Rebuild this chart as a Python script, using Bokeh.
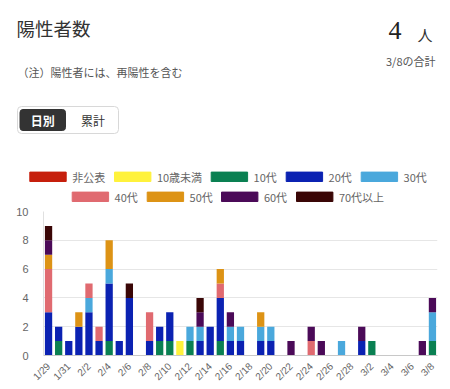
import math
from bokeh.plotting import figure
from bokeh.models import ColumnDataSource, SingleIntervalTicker, FixedTicker, Range1d
from bokeh.core.properties import value
from bokeh.embed import file_html
from bokeh.resources import INLINE

# ---------------- data ----------------
dates = ["1/29", "1/30", "1/31",
         "2/1", "2/2", "2/3", "2/4", "2/5", "2/6", "2/7", "2/8", "2/9", "2/10",
         "2/11", "2/12", "2/13", "2/14", "2/15", "2/16", "2/17", "2/18", "2/19", "2/20",
         "2/21", "2/22", "2/23", "2/24", "2/25", "2/26", "2/27", "2/28",
         "3/1", "3/2", "3/3", "3/4", "3/5", "3/6", "3/7", "3/8"]

groups = ["非公表", "10歳未満", "10代", "20代", "30代", "40代", "50代", "60代", "70代以上"]
colors = ["#c61f0c", "#fff23c", "#0a8052", "#0b22b2", "#4aa8dc", "#e06a70", "#dd9315", "#4b0a58", "#3a0606"]

undisclosed = [0, 0, 0, 0, 0, 0, 0, 0, 0, 0,  0, 0, 0, 0, 0, 0, 0, 0, 0, 0,  0, 0, 0, 0, 0, 0, 0, 0, 0, 0,  0, 0, 0, 0, 0, 0, 0, 0, 0]
under10     = [0, 0, 0, 0, 0, 0, 0, 0, 0, 0,  0, 0, 0, 1, 0, 0, 0, 0, 0, 0,  0, 0, 0, 0, 0, 0, 0, 0, 0, 0,  0, 0, 0, 0, 0, 0, 0, 0, 0]
age10s      = [0, 1, 0, 0, 0, 0, 1, 0, 0, 0,  0, 1, 1, 0, 1, 0, 0, 1, 0, 0,  0, 0, 0, 0, 0, 0, 0, 0, 0, 0,  0, 0, 1, 0, 0, 0, 0, 0, 1]
age20s      = [3, 1, 1, 2, 3, 1, 4, 1, 4, 0,  1, 1, 2, 0, 0, 1, 2, 3, 1, 1,  0, 1, 1, 0, 0, 0, 0, 0, 0, 0,  0, 1, 0, 0, 0, 0, 0, 0, 0]
age30s      = [0, 0, 0, 0, 1, 0, 1, 0, 0, 0,  0, 0, 0, 0, 1, 1, 0, 0, 1, 1,  0, 1, 1, 0, 0, 0, 0, 0, 0, 1,  0, 0, 0, 0, 0, 0, 0, 0, 2]
age40s      = [3, 0, 0, 0, 1, 1, 0, 0, 0, 0,  2, 0, 0, 0, 0, 0, 0, 1, 0, 0,  0, 0, 0, 0, 0, 0, 1, 0, 0, 0,  0, 0, 0, 0, 0, 0, 0, 0, 0]
age50s      = [1, 0, 0, 1, 0, 0, 2, 0, 0, 0,  0, 0, 0, 0, 0, 0, 0, 1, 0, 0,  0, 1, 0, 0, 0, 0, 0, 0, 0, 0,  0, 0, 0, 0, 0, 0, 0, 0, 0]
age60s      = [1, 0, 0, 0, 0, 0, 0, 0, 0, 0,  0, 0, 0, 0, 0, 1, 0, 0, 1, 0,  0, 0, 0, 0, 1, 0, 1, 1, 0, 0,  0, 1, 0, 0, 0, 0, 0, 1, 1]
age70plus   = [1, 0, 0, 0, 0, 0, 0, 0, 1, 0,  0, 0, 0, 0, 0, 1, 0, 0, 0, 0,  0, 0, 0, 0, 0, 0, 0, 0, 0, 0,  0, 0, 0, 0, 0, 0, 0, 0, 0]

y_max = 10
y_ticks_interval = 2
title_text = "陽性者数"
total_value = "4"
total_unit = "人"
total_caption = "3/8の合計"
note_text = "（注）陽性者には、再陽性を含む"
toggle_labels = ["日別", "累計"]

FONT = "Noto Sans CJK JP"
TICKFONT = "Liberation Sans"
W = 450
HEADER_H = 204
CHART_H = 185

# ---------------- header figure (page-pixel coordinates) ----------------
hd = figure(width=W, height=HEADER_H, x_range=Range1d(0, W), y_range=Range1d(HEADER_H, 0),
            output_backend="svg", toolbar_location=None,
            min_border_left=0, min_border_right=0, min_border_top=0, min_border_bottom=0)
hd.axis.visible = False
hd.grid.visible = False
hd.outline_line_color = None
hd.background_fill_color = "white"
hd.border_fill_color = "white"


def htext(x, y, t, size, color, align="left", baseline="middle", font=FONT, style="normal"):
    hd.text(x=[x], y=[y], text=[t], text_font=value(font), text_font_size=value(size),
            text_color=color, text_align=align, text_baseline=baseline, text_font_style=style)


def rounded(renderer, radius):
    try:
        renderer.glyph.border_radius = radius
    except Exception:
        pass


htext(16, 27, title_text, "18.5px", "#333333")
htext(401, 30, total_value, "26px", "#222222", align="right", font="Liberation Serif")
htext(417, 33.5, total_unit, "15px", "#333333")
htext(435, 60.5, total_caption, "11px", "#555555", align="right")
htext(17, 71.7, note_text, "11px", "#555555")

# toggle buttons
r_out = hd.quad(left=[17], right=[118], top=[106], bottom=[133], fill_color="white", line_color="#d8d8d8", line_width=1)
r_in = hd.quad(left=[19.5], right=[65], top=[109], bottom=[130], fill_color="#333333", line_color="#333333")
rounded(r_out, 4)
rounded(r_in, 3)
htext(42.3, 119.8, toggle_labels[0], "12px", "white", align="center", style="bold")
htext(92.5, 119.8, toggle_labels[1], "12px", "#333333", align="center")

# legend (layout positions for each item)
legend_x = [29.3, 114.0, 210.7, 285.7, 360.7, 71.7, 146.7, 221.0, 296.0]
legend_y = [176.3, 176.3, 176.3, 176.3, 176.3, 196.3, 196.3, 196.3, 196.3]
hd.quad(left=legend_x, right=[x + 36.4 for x in legend_x],
        top=[y - 4.7 for y in legend_y], bottom=[y + 4.7 for y in legend_y],
        fill_color=colors, line_color=colors, line_width=1)
hd.text(x=[x + 42.4 for x in legend_x], y=legend_y, text=groups,
        text_font=value(FONT), text_font_size=value("11px"), text_color="#666666",
        text_align="left", text_baseline="middle")

# ---------------- chart figure ----------------
series = [undisclosed, under10, age10s, age20s, age30s, age40s, age50s, age60s, age70plus]
data = {"x": list(range(len(dates))), "date": dates}
for g, s in zip(groups, series):
    data[g] = s
source = ColumnDataSource(data)

FL, FR, FT, FB = 43, 13, 7, 34
p = figure(x_range=Range1d(-0.5, len(dates) - 0.5), y_range=Range1d(0, y_max), width=W, height=CHART_H,
           output_backend="svg", toolbar_location=None,
           min_border_left=FL, min_border_right=FR, min_border_top=FT, min_border_bottom=FB)
p.background_fill_color = "white"
p.border_fill_color = "white"
p.outline_line_color = None

p.vbar_stack(groups, x="x", width=0.72, source=source, fill_color=colors, line_color=None)

p.xaxis.ticker = FixedTicker(ticks=list(range(0, len(dates), 2)))
p.xaxis.major_label_overrides = {i: dates[i] for i in range(0, len(dates), 2)}
p.xaxis.major_label_orientation = math.pi / 4
p.xaxis.major_tick_line_color = None
p.xaxis.minor_tick_line_color = None
p.xaxis.axis_line_color = "#c8c8c8"
p.xaxis.major_label_text_font_size = "10px"
p.xaxis.major_label_text_color = "#666666"
p.xaxis.major_label_text_font = TICKFONT
p.xaxis.major_label_standoff = 3

p.yaxis.ticker = SingleIntervalTicker(interval=y_ticks_interval)
p.yaxis.major_tick_line_color = None
p.yaxis.minor_tick_line_color = None
p.yaxis.axis_line_color = "#e0e0e0"
p.yaxis.major_label_text_font_size = "11px"
p.yaxis.major_label_text_color = "#666666"
p.yaxis.major_label_text_font = TICKFONT
p.yaxis.major_label_standoff = 9
p.ygrid.grid_line_color = "#e6e6e6"
p.xgrid.grid_line_color = None

open("out.html", "w").write(file_html([hd, p], INLINE))
